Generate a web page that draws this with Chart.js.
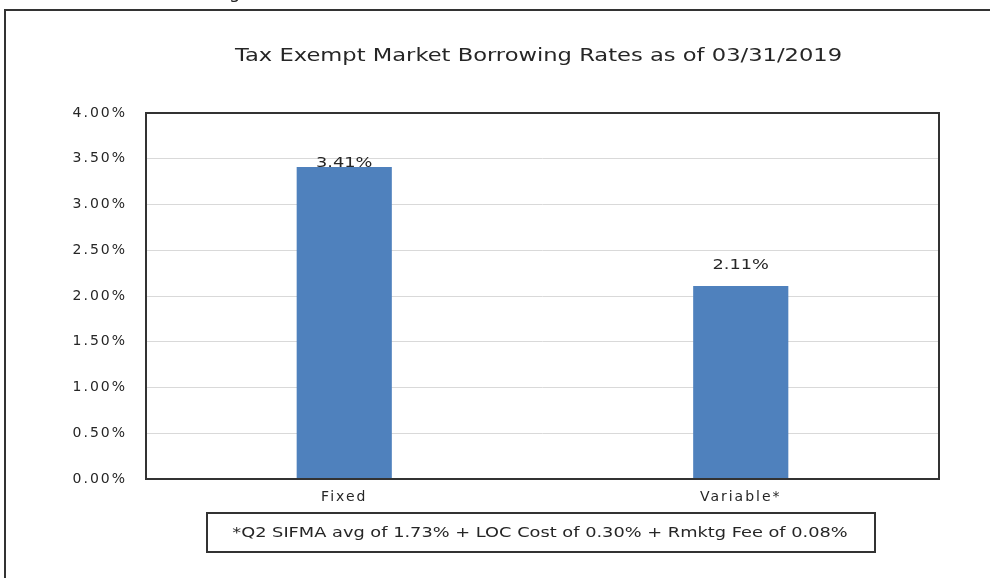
<!DOCTYPE html>
<html>
<head>
<meta charset="utf-8">
<script src="https://cdn.jsdelivr.net/npm/chart.js@4.4.1/dist/chart.umd.min.js"></script>
<style>
html,body{margin:0;padding:0;background:#fff;}
#wrap{width:990px;height:578px;position:relative;}
</style>
</head>
<body>
<div id="wrap"><canvas id="c" width="990" height="578"></canvas></div>
<script>
const titleText = "Tax Exempt Market Borrowing Rates as of 03/31/2019";
const categories = ["Fixed", "Variable*"];
const rates = [3.41, 2.11];
const yTicks = [0, 0.5, 1, 1.5, 2, 2.5, 3, 3.5, 4];
const footnote = "*Q2 SIFMA avg of 1.73% + LOC Cost of 0.30% + Rmktg Fee of 0.08%";

const FONT = "'DejaVu Sans', Verdana, sans-serif";
const TEXT = "#262626";

function wideText(ctx, text, x, y, sx) {
  ctx.save();
  ctx.translate(x, y);
  ctx.scale(sx, 1);
  ctx.fillText(text, 0, 0);
  ctx.restore();
}

const decor = {
  id: 'decor',
  beforeDraw(chart) {
    const ctx = chart.ctx;
    ctx.save();
    ctx.fillStyle = '#fff';
    ctx.fillRect(0, 0, chart.width, chart.height);
    // outer frame (left + top)
    ctx.strokeStyle = '#333';
    ctx.lineWidth = 2;
    ctx.beginPath();
    ctx.moveTo(5, chart.height);
    ctx.lineTo(5, 10);
    ctx.lineTo(chart.width, 10);
    ctx.stroke();
    // cut-off heading descender above frame
    ctx.fillStyle = TEXT;
    ctx.font = "18px " + FONT;
    ctx.textBaseline = 'alphabetic';
    ctx.fillText("g", 229, -2);
    ctx.restore();
    ctx.letterSpacing = '2px';
  },
  afterDraw(chart) {
    const ctx = chart.ctx;
    const a = chart.chartArea;
    ctx.save();
    ctx.letterSpacing = '0px';
    // title
    ctx.fillStyle = TEXT;
    ctx.font = "17px " + FONT;
    ctx.textAlign = 'center';
    ctx.textBaseline = 'middle';
    wideText(ctx, titleText, (a.left + a.right) / 2 - 4, 57, 1.33);
    // plot border
    ctx.strokeStyle = '#333';
    ctx.lineWidth = 2;
    ctx.strokeRect(a.left, a.top, a.right - a.left, a.bottom - a.top);
    // data labels
    const meta = chart.getDatasetMeta(0);
    const lift = [4, 21];
    ctx.font = "14px " + FONT;
    meta.data.forEach((bar, i) => {
      wideText(ctx, rates[i].toFixed(2) + "%", bar.x, bar.y - lift[i], 1.27);
    });
    // footnote box
    const bx = 207, by = 513, bw = 668, bh = 39;
    ctx.lineWidth = 2;
    ctx.strokeRect(bx, by, bw, bh);
    ctx.font = "14px " + FONT;
    wideText(ctx, footnote, bx + bw / 2 - 1, by + bh / 2 + 1, 1.27);
    ctx.restore();
  }
};

new Chart(document.getElementById('c'), {
  type: 'bar',
  data: {
    labels: categories,
    datasets: [{
      data: rates,
      backgroundColor: '#4f81bd',
      borderWidth: 0,
      barPercentage: 0.24,
      categoryPercentage: 1
    }]
  },
  options: {
    responsive: false,
    animation: false,
    devicePixelRatio: 1,
    layout: { padding: { left: 66, right: 51, top: 113, bottom: 59 } },
    plugins: { legend: { display: false }, tooltip: { enabled: false }, title: { display: false } },
    scales: {
      x: {
        grid: { display: false, drawTicks: false },
        border: { display: false },
        ticks: { color: TEXT, font: { family: FONT, size: 14 }, padding: 10 },
        afterFit(s) { s.height = 40; }
      },
      y: {
        min: 0, max: 4,
        afterBuildTicks(s) { s.ticks = yTicks.map(v => ({ value: v })); },
        grid: { color: '#d9d9d9', lineWidth: 1, drawTicks: false },
        border: { display: false },
        ticks: {
          color: TEXT, font: { family: FONT, size: 14 }, padding: 19,
          callback: v => v.toFixed(2) + "%"
        },
        afterFit(s) { s.width = 80; }
      }
    }
  },
  plugins: [decor]
});
</script>
</body>
</html>
